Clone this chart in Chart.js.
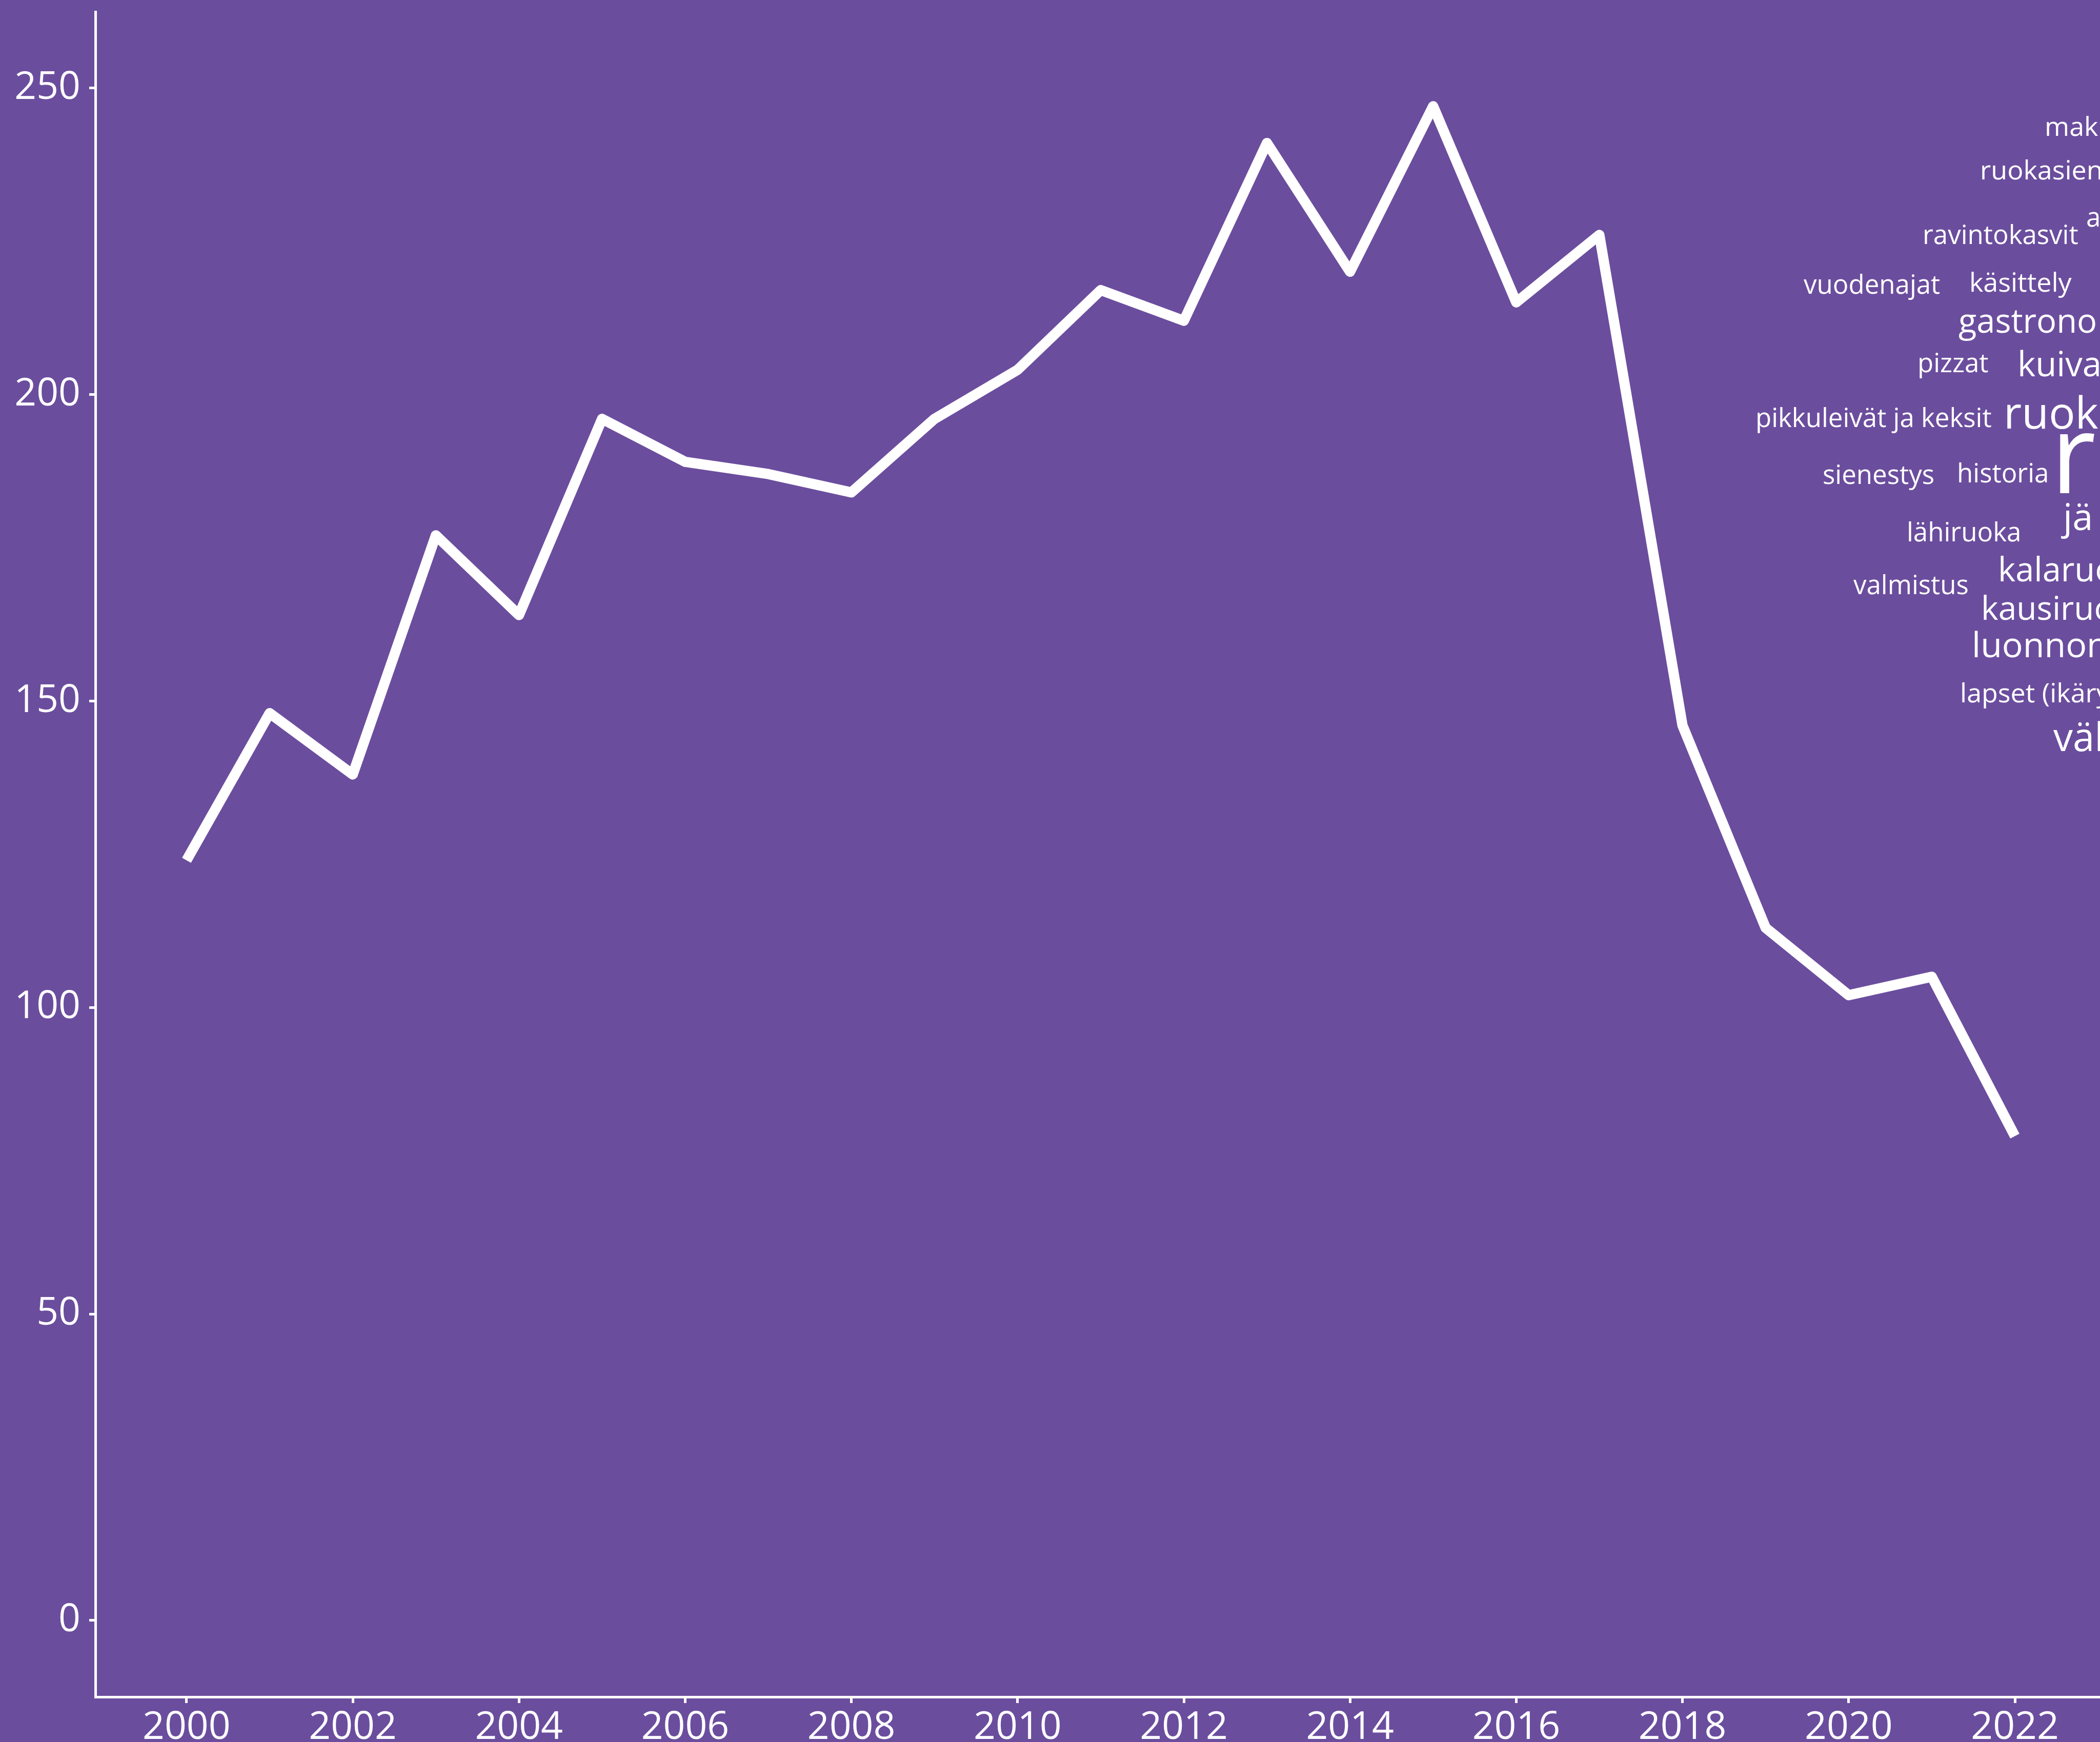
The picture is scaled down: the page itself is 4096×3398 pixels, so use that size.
<!DOCTYPE html>
<html>
<head>
<meta charset="utf-8">
<script src="https://cdn.jsdelivr.net/npm/chart.js@4.4.1/dist/chart.umd.min.js"></script>
<style>
  html, body { margin: 0; padding: 0; background: #6b4d9e; overflow: hidden; }
  canvas { display: block; }
</style>
</head>
<body>
<canvas id="trendChart" width="4096" height="3398" style="width:4096px;height:3398px"></canvas>
<script>
// Data
const years = [2000, 2001, 2002, 2003, 2004, 2005, 2006, 2007, 2008, 2009, 2010, 2011,
  2012, 2013, 2014, 2015, 2016, 2017, 2018, 2019, 2020, 2021, 2022];
const counts = [124, 148, 138, 177, 164, 196, 189, 187, 184, 196, 204, 217,
  212, 241, 220, 247, 215, 226, 146, 113, 102, 105, 79];
const xTicks = [2000, 2002, 2004, 2006, 2008, 2010, 2012, 2014, 2016, 2018, 2020, 2022];
const yTicks = [0, 50, 100, 150, 200, 250];

// Word cloud terms (partly cut off by the right edge, as in the original)
const cloudWords = ['mak', 'ruokasien', 'ravintokasvit', 'a', 'vuodenajat', 'käsittely',
  'gastrono', 'pizzat', 'kuiva', 'pikkuleivät ja keksit', 'ruok', 'r', 'sienestys',
  'historia', 'jä', 'lähiruoka', 'valmistus', 'kalaruo', 'kausiruo', 'luonnon',
  'lapset (ikäry', 'väl'];

// layout for the cloud: [left x, baseline y, font px]
const cloudLayout = [
  [3988, 265, 52], [3862, 350, 52], [3750, 476, 51], [4069, 442, 51],
  [3518, 573, 51], [3841, 569, 52], [3820, 649, 65], [3740, 726, 51],
  [3935, 734, 67], [3424, 833, 51], [3908, 836, 86], [4000, 962, 215],
  [3555, 944, 51], [3817, 941, 51], [4024, 1034, 72], [3719, 1056, 51],
  [3615, 1159, 51], [3897, 1134, 65], [3864, 1209, 64], [3846, 1282, 68],
  [3823, 1370, 52], [4005, 1465, 76]
];

const BG = '#6b4d9e';
const FONT = '"Open Sans", "Noto Sans", sans-serif';

const backgroundPlugin = {
  id: 'bg',
  beforeDraw(chart) {
    const ctx = chart.ctx;
    ctx.save();
    ctx.fillStyle = BG;
    ctx.fillRect(0, 0, chart.width, chart.height);
    ctx.restore();
  }
};

const cloudPlugin = {
  id: 'cloud',
  afterDraw(chart) {
    const ctx = chart.ctx;
    ctx.save();
    ctx.fillStyle = '#ffffff';
    ctx.textAlign = 'left';
    ctx.textBaseline = 'alphabetic';
    cloudWords.forEach((w, i) => {
      const [x, y, size] = cloudLayout[i];
      ctx.font = size + 'px ' + FONT;
      ctx.fillText(w, x, y);
    });
    ctx.restore();
  }
};

const axisStyle = {
  border: { display: true, color: '#ffffff', width: 5 },
  grid: { drawOnChartArea: false, drawTicks: true, tickLength: 12, color: '#ffffff', lineWidth: 5 }
};

new Chart(document.getElementById('trendChart'), {
  type: 'line',
  data: {
    datasets: [{
      data: years.map((y, i) => ({ x: y, y: counts[i] })),
      borderColor: '#ffffff',
      borderWidth: 20,
      borderJoinStyle: 'round',
      borderCapStyle: 'butt',
      pointRadius: 0,
      tension: 0,
      fill: false
    }]
  },
  options: {
    responsive: false,
    animation: false,
    devicePixelRatio: 1,
    layout: { padding: { top: 23, right: 0, left: 0, bottom: 0 } },
    plugins: { legend: { display: false }, tooltip: { enabled: false } },
    scales: {
      x: {
        type: 'linear',
        min: 1998.903,
        max: 2023.024,
        ...axisStyle,
        afterBuildTicks(scale) { scale.ticks = xTicks.map(v => ({ value: v })); },
        afterFit(scale) {
          scale.height = 88;
          scale.paddingLeft = 0;
          scale.paddingRight = 0;
        },
        ticks: {
          color: '#ffffff',
          padding: 11,
          maxRotation: 0,
          autoSkip: false,
          font: { family: FONT, size: 75, lineHeight: 1 },
          callback: v => String(v)
        }
      },
      y: {
        type: 'linear',
        min: -12.46,
        max: 262.4,
        ...axisStyle,
        afterBuildTicks(scale) { scale.ticks = yTicks.map(v => ({ value: v })); },
        afterFit(scale) {
          scale.width = 186;
          scale.paddingTop = 0;
          scale.paddingBottom = 0;
        },
        ticks: {
          color: '#ffffff',
          padding: 17,
          autoSkip: false,
          font: { family: FONT, size: 75, lineHeight: 1 },
          callback: v => String(v)
        }
      }
    }
  },
  plugins: [backgroundPlugin, cloudPlugin]
});
</script>
</body>
</html>
